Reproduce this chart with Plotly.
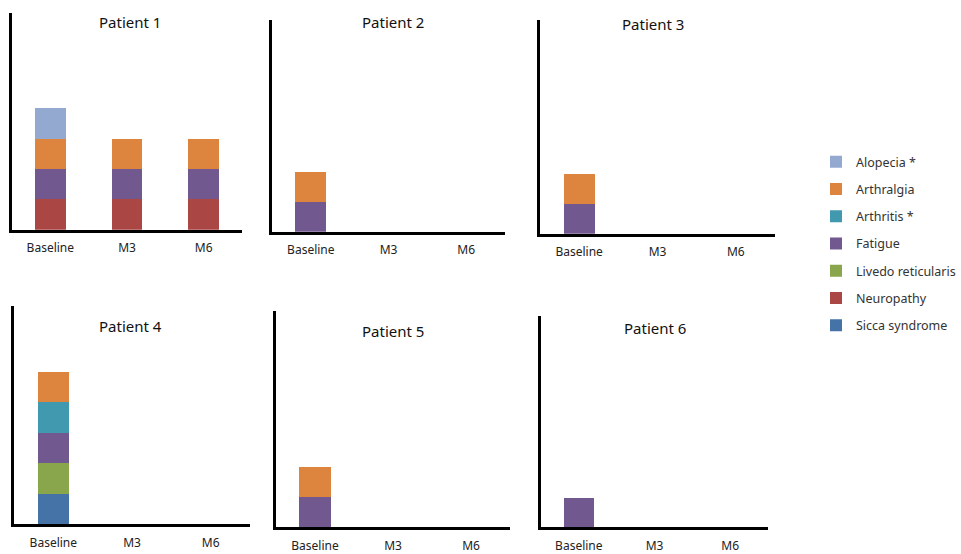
import plotly.graph_objects as go

timepoints = ["Baseline", "M3", "M6"]
patients = ["Patient 1", "Patient 2", "Patient 3", "Patient 4", "Patient 5", "Patient 6"]

# stacking order bottom -> top
symptoms = ["Sicca syndrome", "Neuropathy", "Livedo reticularis", "Fatigue",
            "Arthritis *", "Arthralgia", "Alopecia *"]
colors = ["#4573A7", "#AA4643", "#8AA64D", "#71588F", "#4199AF", "#DD843E", "#93A9D0"]

# values per patient: [Baseline, M3, M6]
sicca = [[0, 0, 0], [0, 0, 0], [0, 0, 0], [1, 0, 0], [0, 0, 0], [0, 0, 0]]
neuropathy = [[1, 1, 1], [0, 0, 0], [0, 0, 0], [0, 0, 0], [0, 0, 0], [0, 0, 0]]
livedo = [[0, 0, 0], [0, 0, 0], [0, 0, 0], [1, 0, 0], [0, 0, 0], [0, 0, 0]]
fatigue = [[1, 1, 1], [1, 0, 0], [1, 0, 0], [1, 0, 0], [1, 0, 0], [1, 0, 0]]
arthritis = [[0, 0, 0], [0, 0, 0], [0, 0, 0], [1, 0, 0], [0, 0, 0], [0, 0, 0]]
arthralgia = [[1, 1, 1], [1, 0, 0], [1, 0, 0], [1, 0, 0], [1, 0, 0], [0, 0, 0]]
alopecia = [[1, 0, 0], [0, 0, 0], [0, 0, 0], [0, 0, 0], [0, 0, 0], [0, 0, 0]]
values = [sicca, neuropathy, livedo, fatigue, arthritis, arthralgia, alopecia]

W, H = 961, 554
# panel pixel boxes: x0, x1, ytop, ybottom
boxes = [(12, 242, 13, 231), (272, 505, 20, 233), (540, 775, 20, 235),
         (14, 250, 308, 527), (276, 510, 313, 530), (541, 768, 318, 530)]
title_pos = [(130, 22), (393, 22), (653, 24), (130, 328), (393, 333), (655, 330)]

FONT = "Noto Sans"
fig = go.Figure()
layout = dict(width=W, height=H, margin=dict(l=0, r=0, t=0, b=0),
              paper_bgcolor="white", plot_bgcolor="white",
              barmode="stack", bargap=0.6, showlegend=True,
              font=dict(family=FONT, color="#222222"))
annotations = []
for i, (x0, x1, yt, yb) in enumerate(boxes):
    xa = "x" if i == 0 else f"x{i+1}"
    ya = "y" if i == 0 else f"y{i+1}"
    for s, name in enumerate(symptoms):
        fig.add_trace(go.Bar(
            x=timepoints, y=values[s][i], name=name,
            marker=dict(color=colors[s], line=dict(width=0)),
            xaxis=xa, yaxis=ya, showlegend=(i == 0), legendgroup=name,
            legendrank=len(symptoms) - s,
        ))
    xkey = "xaxis" if i == 0 else f"xaxis{i+1}"
    ykey = "yaxis" if i == 0 else f"yaxis{i+1}"
    layout[xkey] = dict(domain=[x0 / W, x1 / W], anchor=ya, type="category",
                        categoryorder="array", categoryarray=timepoints,
                        range=[-0.5, 2.5], showline=True, linecolor="black",
                        linewidth=3, showgrid=False, zeroline=False, ticks="",
                        ticklabelstandoff=5,
                        tickfont=dict(family=FONT, size=12, color="#222222"),
                        fixedrange=True)
    layout[ykey] = dict(domain=[1 - yb / H, 1 - yt / H], anchor=xa,
                        range=[0, 7.15], showline=True, linecolor="black",
                        linewidth=3, showgrid=False, zeroline=False,
                        showticklabels=False, ticks="", fixedrange=True)
    tx, ty = title_pos[i]
    annotations.append(dict(text=patients[i], x=tx / W, y=1 - ty / H,
                            xref="paper", yref="paper", showarrow=False,
                            xanchor="center", yanchor="middle",
                            font=dict(family=FONT, size=15, color="#111111")))
layout["annotations"] = annotations
layout["legend"] = dict(x=816 / W, y=1 - 148 / H, xanchor="left", yanchor="top",
                        traceorder="grouped", tracegroupgap=8,
                        font=dict(family=FONT, size=12.5, color="#333333"),
                        bgcolor="rgba(0,0,0,0)", itemclick=False)
fig.update_layout(**layout)
fig.write_html("out.html", config={"displayModeBar": False})

with open("out.html", encoding="utf-8") as f:
    html = f.read()
html = html.replace("<body>", '<body style="margin:0;padding:0;overflow:hidden">', 1)
with open("out.html", "w", encoding="utf-8") as f:
    f.write(html)
